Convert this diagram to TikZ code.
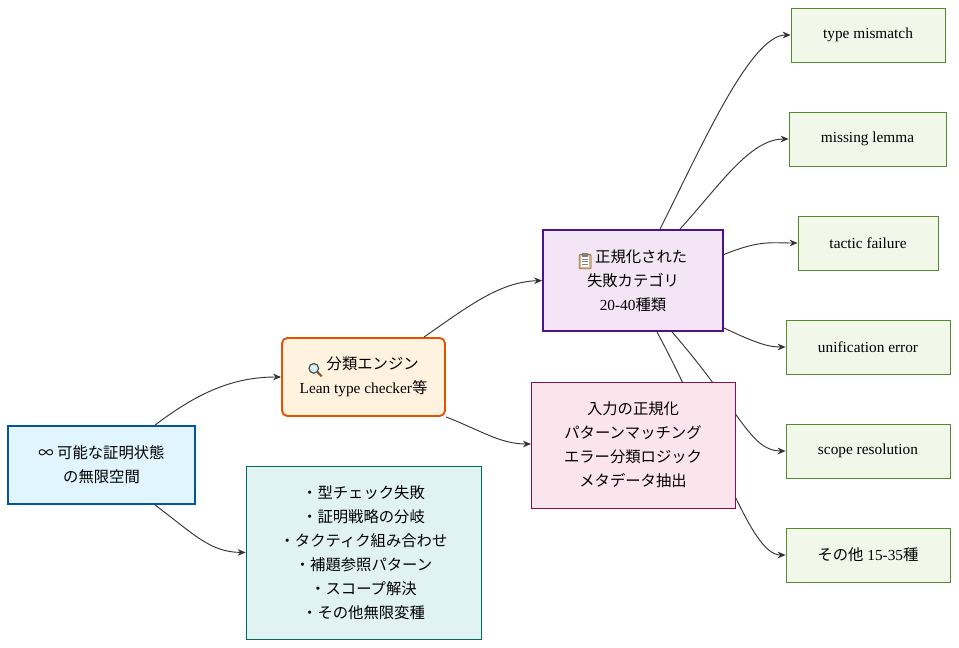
\documentclass[tikz,border=0pt]{standalone}
\usepackage{fontspec}
\setmainfont{Liberation Serif}
\newfontfamily\cjk{Noto Sans CJK JP}
\usetikzlibrary{arrows.meta}
\definecolor{bA}{HTML}{E1F5FE}\definecolor{sA}{HTML}{01579B}
\definecolor{bB}{HTML}{FFF3E0}\definecolor{sB}{HTML}{E65100}
\definecolor{bC}{HTML}{E0F2F1}\definecolor{sC}{HTML}{00695C}
\definecolor{bD}{HTML}{F3E5F5}\definecolor{sD}{HTML}{4A148C}
\definecolor{bE}{HTML}{FCE4EC}\definecolor{sE}{HTML}{880E4F}
\definecolor{bG}{HTML}{F1F8E9}\definecolor{sG}{HTML}{558B2F}
\newcommand{\magglass}{\tikz[baseline=-1pt,x=1pt,y=1pt]{\draw[line width=1.6pt,brown!70!black] (2.5,-2.5)--(6,-6);\draw[line width=1pt,gray!70!black,fill=cyan!15] (0,0) circle (3.6);}}
\newcommand{\clipbd}{\tikz[baseline=-1pt,x=1pt,y=1pt]{\draw[fill=brown!60,draw=brown!70!black,rounded corners=0.8pt] (-4.5,-6) rectangle (4.5,5);\fill[white] (-3.3,-4.8) rectangle (3.3,3.5);\fill[gray] (-2,3.2) rectangle (2,5.8);\foreach \yy in {1.5,-0.5,-2.5}{\draw[gray,line width=0.4pt](-2.2,\yy)--(2.2,\yy);}}}
\begin{document}
\begin{tikzpicture}[x=0.75pt,y=-0.75pt,
  box/.style={draw,align=center,inner sep=0pt,font=\fontsize{11.5}{18}\selectfont},
  outbox/.style={box,fill=bG,draw=sG,line width=0.6pt},
  arr/.style={draw=black!80,line width=0.7pt,-{Stealth[length=6pt,width=5pt]}}]
\useasboundingbox (0,0) rectangle (959,648);
\node[box,fill=bA,draw=sA,line width=1.4pt,minimum width=187*0.75pt,minimum height=78*0.75pt] (A) at (101.5,465) {{\cjk ∞ 可能な証明状態}\\{\cjk の無限空間}};
\node[box,fill=bB,draw=sB,line width=1.4pt,rounded corners=4pt,minimum width=163*0.75pt,minimum height=78*0.75pt] (B) at (363.5,377) {\magglass\ {\cjk 分類エンジン}\\Lean type checker{\cjk 等}};
\node[box,fill=bC,draw=sC,line width=0.6pt,minimum width=235*0.75pt,minimum height=173*0.75pt] (C) at (363.5,552.5) {\cjk ・型チェック失敗\\\cjk ・証明戦略の分岐\\\cjk ・タクティク組み合わせ\\\cjk ・補題参照パターン\\\cjk ・スコープ解決\\\cjk ・その他無限変種};
\node[box,fill=bD,draw=sD,line width=1.4pt,minimum width=180*0.75pt,minimum height=101*0.75pt] (D) at (633,280.5) {\clipbd\ {\cjk 正規化された}\\{\cjk 失敗カテゴリ}\\20-40{\cjk 種類}};
\node[outbox,minimum width=154*0.75pt,minimum height=54*0.75pt] (O1) at (868,35) {type mismatch};
\node[outbox,minimum width=157*0.75pt,minimum height=54*0.75pt] (O2) at (867.5,139) {missing lemma};
\node[outbox,minimum width=140*0.75pt,minimum height=54*0.75pt] (O3) at (868,243) {tactic failure};
\node[outbox,minimum width=164*0.75pt,minimum height=54*0.75pt] (O4) at (868,347) {unification error};
\node[outbox,minimum width=164*0.75pt,minimum height=54*0.75pt] (O5) at (868,451) {scope resolution};
\node[outbox,minimum width=164*0.75pt,minimum height=54*0.75pt] (O6) at (868,555) {{\cjk その他} 15-35{\cjk 種}};
\coordinate (Ew) at (531,444);
% edges
\draw[arr] ([xshift=53.5*0.75pt]A.north) .. controls (195,395) and (230,377) .. (B.west);
\draw[arr] ([xshift=53.5*0.75pt]A.south) .. controls (195,535) and (210,552) .. (C.west);
\draw[arr] ([xshift=60.5*0.75pt]B.north) .. controls (470,305) and (500,282) .. (D.west);
\draw[arr] (B.south east) .. controls (480,430) and (500,444) .. (Ew);
\draw[arr] ([xshift=27*0.75pt]D.north) .. controls (700,150) and (750,35) .. (O1.west);
\draw[arr] ([xshift=47*0.75pt]D.north) .. controls (720,185) and (750,139) .. (O2.west);
\draw[arr] ([yshift=26*0.75pt]D.east) .. controls (760,240) and (770,243) .. (O3.west);
\draw[arr] ([yshift=-47.5*0.75pt]D.east) .. controls (760,345) and (770,347) .. (O4.west);
\draw[arr] ([xshift=39*0.75pt]D.south) .. controls (740,410) and (750,451) .. (O5.west);
\draw[arr] ([xshift=24*0.75pt]D.south) .. controls (720,450) and (750,555) .. (O6.west);
\node[box,fill=bE,draw=sE,line width=0.6pt,minimum width=204*0.75pt,minimum height=126*0.75pt] (E) at (633,445) {\cjk 入力の正規化\\\cjk パターンマッチング\\\cjk エラー分類ロジック\\\cjk メタデータ抽出};
\end{tikzpicture}
\end{document}
